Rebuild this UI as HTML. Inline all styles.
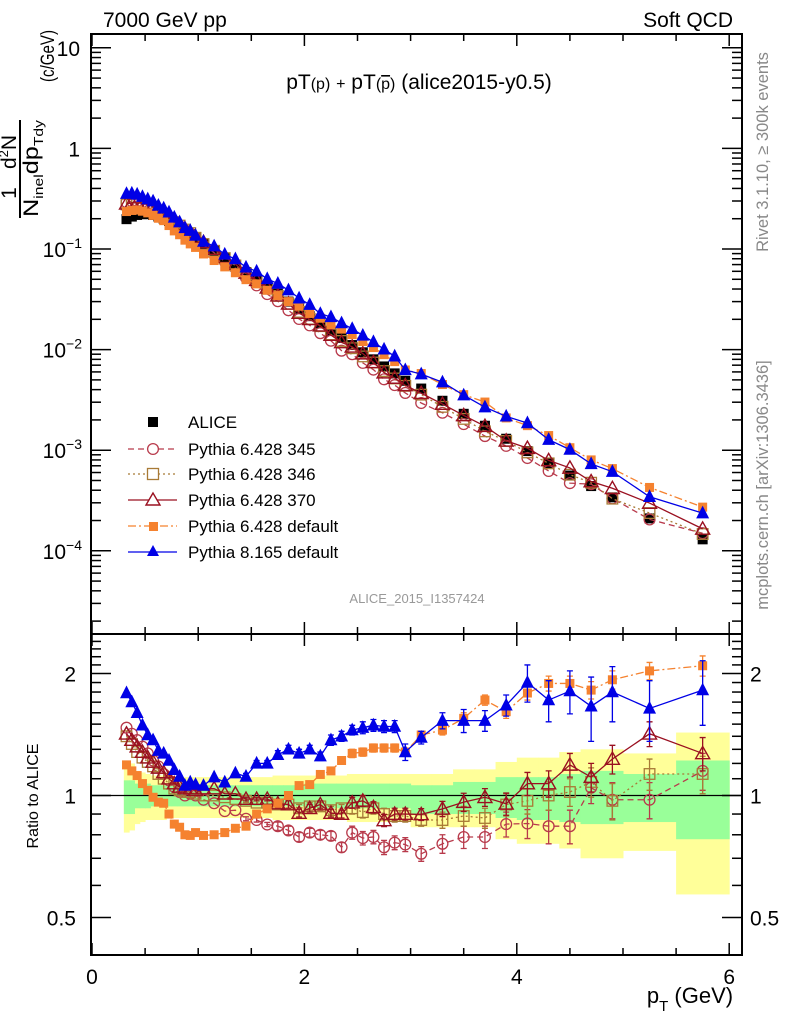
<!DOCTYPE html>
<html><head><meta charset="utf-8">
<style>
html,body{margin:0;padding:0;background:#fff;}
svg{display:block;font-family:"Liberation Sans",sans-serif;}
</style></head>
<body>
<svg id="chart" width="786" height="1024" viewBox="0 0 786 1024"></svg>
<script>
// ---------- data ----------
const binEdges = [0.3,0.35,0.4,0.45,0.5,0.55,0.6,0.65,0.7,0.75,0.8,0.85,0.9,0.95,1.0,
 1.1,1.2,1.3,1.4,1.5,1.6,1.7,1.8,1.9,2.0,2.1,2.2,2.3,2.4,2.5,2.6,2.7,2.8,2.9,3.0,
 3.2,3.4,3.6,3.8,4.0,4.2,4.4,4.6,4.8,5.0,5.5,6.0];
const aliceValues = [0.198,0.21,0.218,0.222,0.222,0.218,0.21,0.20,0.19,0.178,0.166,0.153,0.141,0.128,
 0.112,0.096,0.082,0.070,0.059,0.050,0.042,0.036,0.030,0.0255,0.0215,0.0182,0.0154,0.0131,0.0111,0.0094,0.0080,0.0068,0.0058,0.0049,
 0.0041,0.0031,0.0023,0.00175,0.00130,0.00098,0.00074,0.00056,0.00044,0.00034,0.00021,0.00013];
const ratioPy345 = [1.47,1.42,1.37,1.32,1.27,1.22,1.18,1.13,1.09,1.05,1.02,1.0,1.01,1.0,
 0.976,0.957,0.915,0.92,0.876,0.87,0.848,0.84,0.82,0.79,0.81,0.80,0.795,0.745,0.81,0.785,0.79,0.745,0.765,0.757,
 0.718,0.76,0.79,0.79,0.85,0.853,0.84,0.84,1.045,0.976,0.976,1.15];
const ratioPy346 = [1.40,1.34,1.28,1.24,1.21,1.18,1.13,1.10,1.07,1.04,1.03,1.02,1.02,1.01,
 1.0,1.0,0.99,0.98,0.97,0.96,0.96,0.95,0.95,0.93,0.94,0.94,0.92,0.93,0.93,0.91,0.93,0.90,0.89,0.89,
 0.87,0.87,0.89,0.88,0.95,0.97,1.0,1.02,1.08,0.97,1.13,1.13];
const ratioPy370 = [1.42,1.37,1.32,1.28,1.24,1.21,1.17,1.14,1.10,1.07,1.05,1.04,1.04,1.03,
 1.04,1.04,1.01,1.01,0.98,0.98,0.98,0.955,0.95,0.905,0.93,0.95,0.905,0.90,0.96,0.97,0.935,0.868,0.90,0.90,
 0.898,0.927,0.963,0.99,0.954,1.07,1.07,1.19,1.11,1.23,1.42,1.27];
const ratioPy6def = [1.19,1.15,1.12,1.07,1.03,0.99,0.963,0.957,0.90,0.85,0.835,0.80,0.797,0.81,
 0.797,0.80,0.81,0.83,0.84,0.90,0.927,0.957,1.0,1.058,1.064,1.127,1.15,1.22,1.27,1.28,1.31,1.31,1.31,1.28,
 1.41,1.45,1.55,1.72,1.61,1.79,1.89,1.89,1.82,1.93,2.03,2.09];
const ratioPy8 = [1.79,1.70,1.60,1.49,1.41,1.37,1.29,1.27,1.22,1.157,1.114,1.058,1.078,1.064,
 1.058,1.11,1.078,1.135,1.114,1.20,1.20,1.26,1.30,1.27,1.30,1.25,1.37,1.40,1.45,1.47,1.49,1.48,1.48,1.28,
 1.39,1.53,1.53,1.53,1.67,1.90,1.72,1.81,1.66,1.80,1.64,1.82];
const errPy8 = [0,0,0,0,0,0,0,0,0,0,0,0,0,0,
 0,0,0,0,0.02,0.02,0.02,0.03,0.03,0.03,0.03,0.03,0.04,0.04,0.04,0.05,0.05,0.05,0.05,0.06,
 0.05,0.07,0.10,0.09,0.10,0.20,0.20,0.22,0.30,0.28,0.28,0.33];
const errOther = [0,0,0,0,0,0,0,0,0,0,0,0,0,0,
 0,0,0,0,0.01,0.01,0.01,0.02,0.02,0.02,0.02,0.02,0.02,0.02,0.03,0.03,0.03,0.03,0.03,0.03,
 0.03,0.04,0.05,0.05,0.06,0.07,0.08,0.08,0.09,0.10,0.10,0.12];
const bandYellowHi = [1.22,1.20,1.15,1.14,1.13,1.12,1.12,1.12,1.11,1.11,1.11,1.11,1.11,1.11,
 1.11,1.11,1.11,1.11,1.11,1.11,1.11,1.12,1.12,1.12,1.12,1.12,1.12,1.12,1.13,1.13,1.13,1.13,1.13,1.13,
 1.13,1.13,1.16,1.16,1.21,1.24,1.24,1.28,1.30,1.30,1.27,1.43];
const bandYellowLo = [0.81,0.82,0.85,0.86,0.87,0.87,0.87,0.87,0.88,0.88,0.88,0.88,0.88,0.88,
 0.88,0.88,0.88,0.88,0.88,0.88,0.88,0.87,0.87,0.87,0.87,0.87,0.87,0.87,0.86,0.86,0.86,0.86,0.86,0.86,
 0.835,0.835,0.835,0.835,0.78,0.76,0.76,0.74,0.70,0.70,0.73,0.57];
const bandGreenHi = [1.09,1.09,1.07,1.07,1.07,1.06,1.06,1.06,1.06,1.06,1.06,1.06,1.06,1.06,
 1.06,1.06,1.06,1.06,1.06,1.06,1.06,1.06,1.06,1.06,1.07,1.07,1.07,1.07,1.07,1.07,1.07,1.07,1.07,1.07,
 1.06,1.06,1.08,1.08,1.11,1.11,1.11,1.13,1.15,1.15,1.13,1.22];
const bandGreenLo = [0.90,0.90,0.93,0.93,0.93,0.94,0.94,0.94,0.94,0.94,0.94,0.94,0.94,0.94,
 0.94,0.94,0.94,0.94,0.94,0.94,0.94,0.94,0.94,0.94,0.93,0.93,0.93,0.93,0.93,0.93,0.93,0.93,0.93,0.93,
 0.90,0.90,0.90,0.90,0.88,0.87,0.87,0.86,0.85,0.85,0.86,0.78];
const xTickLabels = ["0","2","4","6"];
const yMainTickLabels = [["10",""],["1",""],["10","−1"],["10","−2"],["10","−3"],["10","−4"]];
const yRatioTickLabels = ["0.5","1","2"];

// ---------- layout ----------
const NS="http://www.w3.org/2000/svg";
const svg=document.getElementById('chart');
const L=91,R=742,MT=34,MB=634,RT=634,RB=955;
const xS=v=>L+1+v*106.2;
const yMain=v=>249-100.6*Math.log10(v/0.1);
const yRat=v=>795.5-122*Math.log2(v);
function el(tag,attrs,parent){const e=document.createElementNS(NS,tag);for(const k in attrs)e.setAttribute(k,attrs[k]);(parent||svg).appendChild(e);return e;}
function txt(s,attrs,parent){const e=el('text',attrs,parent);e.textContent=s;return e;}

const centers=[];for(let i=0;i<binEdges.length-1;i++)centers.push((binEdges[i]+binEdges[i+1])/2);

const defs=el('defs',{});
const cp1=el('clipPath',{id:'cMain'},defs);el('rect',{x:L,y:MT,width:R-L,height:MB-MT},cp1);
const cp2=el('clipPath',{id:'cRat'},defs);el('rect',{x:L,y:RT,width:R-L,height:RB-RT},cp2);

const gBand=el('g',{'clip-path':'url(#cRat)'});


for(let i=0;i<centers.length;i++){
  const x0=xS(binEdges[i]),x1=xS(binEdges[i+1]);
  const ry=el('rect',{x:x0,y:yRat(bandYellowHi[i]),width:x1-x0+0.5,height:yRat(bandYellowLo[i])-yRat(bandYellowHi[i]),fill:'#ffff99'},gBand);
  
  
}
for(let i=0;i<centers.length;i++){
  const x0=xS(binEdges[i]),x1=xS(binEdges[i+1]);
  const rg=el('rect',{x:x0,y:yRat(bandGreenHi[i]),width:x1-x0+0.5,height:yRat(bandGreenLo[i])-yRat(bandGreenHi[i]),fill:'#99ff99'},gBand);
  
  
}
const refLine=el('line',{x1:L,x2:R,y1:yRat(1),y2:yRat(1),stroke:'#000','stroke-width':1.2});



function marker(g,type,x,y,color,s){
  if(type==='sqf')return el('rect',{x:x-s,y:y-s,width:2*s,height:2*s,fill:color},g);
  if(type==='sqo')return el('rect',{x:x-s+0.7,y:y-s+0.7,width:2*s-1.4,height:2*s-1.4,fill:'none',stroke:color,'stroke-width':1.3},g);
  if(type==='circ')return el('circle',{cx:x,cy:y,r:s-0.6,fill:'none',stroke:color,'stroke-width':1.3},g);
  if(type==='trio')return el('polygon',{points:`${x},${y-s} ${x-s},${y+s*0.75} ${x+s},${y+s*0.75}`,fill:'none',stroke:color,'stroke-width':1.4},g);
  if(type==='trif')return el('polygon',{points:`${x},${y-s-1} ${x-s},${y+s*0.8} ${x+s},${y+s*0.8}`,fill:color},g);
}
const series=[
 {name:'pythia-6428-345',r:ratioPy345,err:errOther,color:'#b83a4b',m:'circ',dash:'6,4',s:6},
 {name:'pythia-6428-346',r:ratioPy346,err:errOther,color:'#a87a36',m:'sqo',dash:'2,3',s:6},
 {name:'pythia-6428-370',r:ratioPy370,err:errOther,color:'#9a1020',m:'trio',dash:'',s:7},
 {name:'pythia-6428-default',r:ratioPy6def,err:errOther,color:'#f5822f',m:'sqf',dash:'8,3,2,3',s:4.5},
 {name:'pythia-8165-default',r:ratioPy8,err:errPy8,color:'#0000e6',m:'trif',dash:'',s:6.5}
];

const gMain=el('g',{'clip-path':'url(#cMain)'});


const gA=el('g',{},gMain);


centers.forEach((c,i)=>{const m=marker(gA,'sqf',xS(c),yMain(aliceValues[i]),'#000',5);
 
 });
series.forEach(S=>{
  const g=el('g',{},gMain);
  
  
  const pts=centers.map((c,i)=>xS(c)+','+yMain(aliceValues[i]*S.r[i])).join(' ');
  const pl=el('polyline',{points:pts,fill:'none',stroke:S.color,'stroke-width':1.3,'stroke-dasharray':S.dash},g);
  
  
  centers.forEach((c,i)=>{const m=marker(g,S.m,xS(c),yMain(aliceValues[i]*S.r[i]),S.color,S.s);
    
    });
});

const gRat=el('g',{'clip-path':'url(#cRat)'});


series.forEach(S=>{
  const g=el('g',{},gRat);
  
  
  const pts=centers.map((c,i)=>xS(c)+','+yRat(S.r[i])).join(' ');
  const pl=el('polyline',{points:pts,fill:'none',stroke:S.color,'stroke-width':1.3,'stroke-dasharray':S.dash},g);
  
  
  centers.forEach((c,i)=>{
    if(S.err[i]>0){
      const x=xS(c),y1=yRat(S.r[i]+S.err[i]),y2=yRat(Math.max(0.05,S.r[i]-S.err[i]));
      const eb=el('path',{d:`M${x},${y1}V${y2}M${x-3},${y1}H${x+3}M${x-3},${y2}H${x+3}`,stroke:S.color,'stroke-width':1.3,fill:'none'},g);
      
      
    }
    const m=marker(g,S.m,xS(c),yRat(S.r[i]),S.color,S.s);
    
    
  });
});

const f1=el('rect',{x:L,y:MT,width:R-L,height:MB-MT,fill:'none',stroke:'#000','stroke-width':2});


const f2=el('rect',{x:L,y:RT,width:R-L,height:RB-RT,fill:'none',stroke:'#000','stroke-width':2});



const gTicks=el('g',{stroke:'#000','stroke-width':1.5});


for(let v=0;v<=6.01;v+=0.5){
  const x=xS(v),len=(Math.abs(v%2)<0.01)?12:7;
  el('line',{x1:x,x2:x,y1:MT,y2:MT+len},gTicks);
  el('line',{x1:x,x2:x,y1:MB,y2:MB-len},gTicks);
  el('line',{x1:x,x2:x,y1:RT,y2:RT+len},gTicks);
  el('line',{x1:x,x2:x,y1:RB,y2:RB-len},gTicks);
}
for(let d=-5;d<=1;d++){
  for(let k=1;k<10;k++){
    const v=k*Math.pow(10,d),y=yMain(v);
    if(y<MT||y>MB)continue;
    const len=k===1?20:10;
    el('line',{x1:L,x2:L+len,y1:y,y2:y},gTicks);
    el('line',{x1:R,x2:R-len,y1:y,y2:y},gTicks);
  }
}
[0.4,0.5,0.6,0.7,0.8,0.9,1,1.1,1.2,1.3,1.4,1.5,1.6,1.7,1.8,1.9,2,2.1,2.2,2.3,2.4].forEach(v=>{
  const y=yRat(v);if(y<RT||y>RB)return;
  const len=(v===0.5||v===1||v===2)?20:10;
  el('line',{x1:L,x2:L+len,y1:y,y2:y},gTicks);
  el('line',{x1:R,x2:R-len,y1:y,y2:y},gTicks);
});

xTickLabels.forEach((s,i)=>{const t=txt(s,{x:xS(i*2),y:984,'font-size':21,'text-anchor':'middle'});
 
 });
yMainTickLabels.forEach((p,i)=>{
  const y=yMain(Math.pow(10,1-i))+8;
  const t=el('text',{x:p[1]?72:80,y:y,'font-size':21,'text-anchor':'end'});
  
  
  t.textContent=p[0];
  if(p[1]){const ts=el('tspan',{dy:-9,'font-size':14},t);ts.textContent=p[1];t.setAttribute('x',82);}
});
yRatioTickLabels.forEach((s,i)=>{
  const y=yRat([0.5,1,2][i])+8;
  const t=txt(s,{x:76,y:y,'font-size':21,'text-anchor':'end'});
  
  
  const t2=txt(s,{x:750,y:y,'font-size':21});
  
  
});
</script>
<svg style="position:absolute;left:0;top:0" width="786" height="1024">
 <g font-family="Liberation Sans, sans-serif">
  <text x="103" y="27" font-size="21">7000 GeV pp</text>
  <text x="733" y="27" font-size="21" text-anchor="end">Soft QCD</text>
  <text x="419" y="89" font-size="21" text-anchor="middle">pT<tspan font-size="16">(p)</tspan> <tspan font-size="16">+</tspan> pT<tspan font-size="16">(</tspan><tspan font-size="16" text-decoration="overline">p</tspan><tspan font-size="16">)</tspan> (alice2015-y0.5)</text>
  <text x="417" y="603" font-size="13" fill="#999" text-anchor="middle">ALICE_2015_I1357424</text>
  <text transform="translate(768,152) rotate(-90)" font-size="16.5" fill="#888" text-anchor="middle">Rivet 3.1.10, ≥ 300k events</text>
  <text transform="translate(768,485) rotate(-90)" font-size="16.5" fill="#888" text-anchor="middle">mcplots.cern.ch [arXiv:1306.3436]</text>
  <text transform="translate(38,796) rotate(-90)" font-size="16" text-anchor="middle">Ratio to ALICE</text>
  <g>
   <text transform="translate(16,193) rotate(-90)" font-size="21" text-anchor="middle">1</text>
   <text transform="translate(16,152) rotate(-90)" font-size="21" text-anchor="middle">d<tspan font-size="13" dy="-8">2</tspan><tspan dy="8">N</tspan></text>
   <line x1="20" y1="120" x2="20" y2="218" stroke="#000" stroke-width="2"/>
   <text transform="translate(38,217) rotate(-90)" font-size="21" textLength="97" lengthAdjust="spacingAndGlyphs">N<tspan font-size="13" dy="5">inel</tspan><tspan dy="-5">dp</tspan><tspan font-size="13" dy="5">Tdy</tspan></text>
   <text transform="translate(54,56) rotate(-90)" font-size="19" text-anchor="middle" textLength="52" lengthAdjust="spacingAndGlyphs">(c/GeV)</text>
  </g>
  <text x="690" y="1003" font-size="22" text-anchor="middle">p<tspan font-size="15" dy="8">T</tspan><tspan dy="-8"> (GeV)</tspan></text>
  <g font-size="17">
   <g>
    <rect x="148" y="417" width="10" height="10" fill="#000"/>
    <text x="188" y="428">ALICE</text></g>
   <g>
    <line x1="128" x2="177" y1="449" y2="449" stroke="#b83a4b" stroke-width="1.3" stroke-dasharray="6,4"/>
    <circle cx="153" cy="449" r="5.4" fill="#fff" stroke="#b83a4b" stroke-width="1.3"/>
    <text x="188" y="455">Pythia 6.428 345</text></g>
   <g>
    <line x1="128" x2="177" y1="474" y2="474" stroke="#a87a36" stroke-width="1.3" stroke-dasharray="2,3"/>
    <rect x="147.5" y="468.5" width="11" height="11" fill="#fff" stroke="#a87a36" stroke-width="1.3"/>
    <text x="188" y="480">Pythia 6.428 346</text></g>
   <g>
    <line x1="128" x2="177" y1="500" y2="500" stroke="#9a1020" stroke-width="1.3"/>
    <polygon points="153,493 146,505 160,505" fill="#fff" stroke="#9a1020" stroke-width="1.4"/>
    <text x="188" y="506">Pythia 6.428 370</text></g>
   <g>
    <line x1="128" x2="177" y1="526" y2="526" stroke="#f5822f" stroke-width="1.3" stroke-dasharray="8,3,2,3"/>
    <rect x="149" y="522" width="9" height="9" fill="#f5822f"/>
    <text x="188" y="532">Pythia 6.428 default</text></g>
   <g>
    <line x1="128" x2="177" y1="552" y2="552" stroke="#0000e6" stroke-width="1.3"/>
    <polygon points="153,545 147,556 159,556" fill="#0000e6"/>
    <text x="188" y="558">Pythia 8.165 default</text></g>
  </g>
 </g>
</svg>
</body></html>
